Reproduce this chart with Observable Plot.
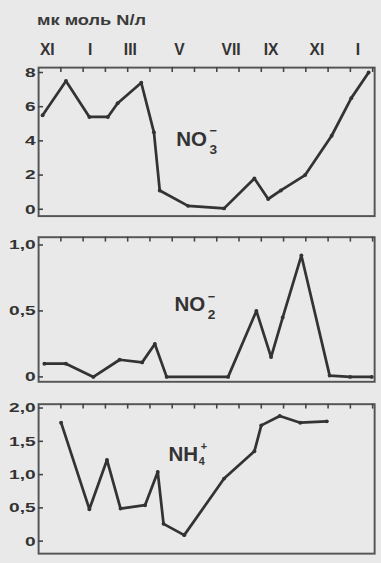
<!DOCTYPE html>
<html><head><meta charset="utf-8">
<script src="https://cdn.jsdelivr.net/npm/d3@7"></script>
<script src="https://cdn.jsdelivr.net/npm/@observablehq/plot@0.6"></script>
<style>
html,body{margin:0;padding:0;overflow:hidden;background:#e9e9e9;width:381px;height:563px}
#title{font-family:"Liberation Sans",Arial,sans-serif;font-weight:bold;font-size:14px;line-height:14px;color:#3a3a3a;padding:13px 0 0 37px;height:17px;white-space:nowrap}
#title span{display:inline-block;transform:scaleX(1.3);transform-origin:left center}
svg{display:block}
</style></head><body>
<div id="title"><span>мк моль N/л</span></div>
<div id="charts"></div>
<script>
// Month axis: 0 = start of November (year 1), one unit per month
const monthLabels = ["XI","I","III","V","VII","IX","XI","I"];
const monthLabelPos = [0.39, 2.32, 4.12, 6.32, 8.64, 10.44, 12.5, 14.34];
const monthBounds = [1,2,3,4,5,6,7,8,9,10,11,12,13,14,15];

// NO3-
const no3Month = [0.18, 1.23, 2.28, 3.11, 3.55, 4.61, 5.18, 5.44, 6.71, 8.33, 9.69, 10.31, 10.88, 11.97, 13.16, 14.04, 14.82];
const no3Value = [5.5, 7.5, 5.4, 5.4, 6.2, 7.4, 4.5, 1.1, 0.2, 0.05, 1.8, 0.6, 1.1, 2.0, 4.3, 6.5, 8.0];
// NO2-
const no2Month = [0.26, 1.23, 2.46, 3.64, 4.65, 5.22, 5.75, 8.51, 9.78, 10.44, 10.96, 11.8, 13.07, 13.99, 14.96];
const no2Value = [0.1, 0.1, 0.0, 0.13, 0.11, 0.25, 0.0, 0.0, 0.5, 0.15, 0.45, 0.92, 0.01, 0.0, 0.0];
// NH4+
const nh4Month = [1.01, 2.28, 3.07, 3.68, 4.78, 5.35, 5.61, 6.54, 8.33, 9.69, 10.0, 10.83, 11.75, 12.94];
const nh4Value = [1.78, 0.48, 1.22, 0.49, 0.54, 1.04, 0.26, 0.09, 0.94, 1.35, 1.74, 1.88, 1.78, 1.8];

const no3Ticks = [0, 2, 4, 6, 8];
const no2Ticks = [0, 0.5, 1.0];
const nh4Ticks = [0, 0.5, 1.0, 1.5, 2.0];

const comma = d => d === 0 ? "0" : d.toFixed(1).replace(".", ",");
const ink = "#333";

function panel({months, values, yDomain, yTicks, fmt, height, marginTop, marginBottom, label, top}) {
  const width = 390, marginLeft = 39, marginRight = 7;
  const xDomain = [0, 15.09];
  const innerH = height - marginTop - marginBottom;
  const innerW = width - marginLeft - marginRight;
  const yPer = innerH / (yDomain[1] - yDomain[0]);   // px per y unit
  const xPer = innerW / (xDomain[1] - xDomain[0]);   // px per month
  const data = months.map((m, i) => ({m, v: values[i]}));
  const marks = [
    Plot.frame({stroke: "#555", strokeWidth: 2}),
    Plot.ruleX(monthBounds, {x: d => d, y1: yDomain[1], y2: yDomain[1] - 5 / yPer, stroke: "#444", strokeWidth: 1.6}),
    Plot.ruleY(yTicks, {y: d => d, x1: xDomain[0], x2: xDomain[0] + 5 / xPer, stroke: "#444", strokeWidth: 1.6}),
    Plot.axisY({anchor: "left", ticks: yTicks, tickSize: 0, tickPadding: 3, tickFormat: fmt, fill: ink, fontSize: 14}),
    Plot.line(data, {x: "m", y: "v", stroke: ink, strokeWidth: 2.8}),
    Plot.dot(data, {x: "m", y: "v", r: 2, fill: ink}),
    Plot.text([label], {x: "x", y: "y", text: "main", textAnchor: "start", lineAnchor: "bottom", fontSize: 21, fill: ink}),
    Plot.text([label], {x: "x", y: "y", text: "sub", textAnchor: "start", lineAnchor: "bottom", fontSize: label.subSize, dx: label.subDx, dy: label.subDy, fill: ink}),
    Plot.text([label], {x: "x", y: "y", text: "sup", textAnchor: "start", lineAnchor: "bottom", fontSize: label.supSize, dx: label.supDx, dy: label.supDy, fill: ink})
  ];
  if (top) marks.push(Plot.axisX({anchor: "top", ticks: monthLabelPos, tickSize: 0, tickPadding: 13,
    tickFormat: d => monthLabels[monthLabelPos.indexOf(d)], fontSize: 16, fill: ink}));
  const svg = Plot.plot({
    width, height, marginLeft, marginRight, marginTop, marginBottom,
    style: {background: "transparent", fontFamily: "'Liberation Sans', Arial, sans-serif", fontSize: "13px", fontWeight: "bold", color: ink},
    x: {domain: xDomain, axis: null},
    y: {domain: yDomain, axis: null},
    marks
  });
  // widen the y tick labels like the printed ones
  d3.select(svg).selectAll('g[aria-label="y-axis tick label"] text').each(function() {
    const t = this.getAttribute("transform");
    if (t) this.setAttribute("transform", t + " scale(1.4,1)");
  });
  return svg;
}

const charts = document.getElementById("charts");
charts.append(panel({months: no3Month, values: no3Value, yDomain: [-0.4, 8.286], yTicks: no3Ticks, fmt: d => String(d),
  height: 200, marginTop: 38, marginBottom: 10, top: true,
  label: {x: 6.18, y: 3.71, main: "NO", sub: "3", sup: "\u2212", subSize: 14, subDx: 34, subDy: 8, supSize: 13, supDx: 34, supDy: -11}}));
charts.append(panel({months: no2Month, values: no2Value, yDomain: [-0.037, 1.059], yTicks: no2Ticks, fmt: comma,
  height: 170, marginTop: 12, marginBottom: 10,
  label: {x: 6.1, y: 0.496, main: "NO", sub: "2", sup: "\u2212", subSize: 14, subDx: 34, subDy: 8, supSize: 13, supDx: 34, supDy: -11}}));
charts.append(panel({months: nh4Month, values: nh4Value, yDomain: [-0.188, 2.058], yTicks: nh4Ticks, fmt: comma,
  height: 170, marginTop: 13, marginBottom: 4,
  label: {x: 5.83, y: 1.203, main: "NH", sub: "4", sup: "+", subSize: 11, subDx: 31, subDy: 4, supSize: 11, supDx: 33, supDy: -11}}));
</script>
</body></html>
